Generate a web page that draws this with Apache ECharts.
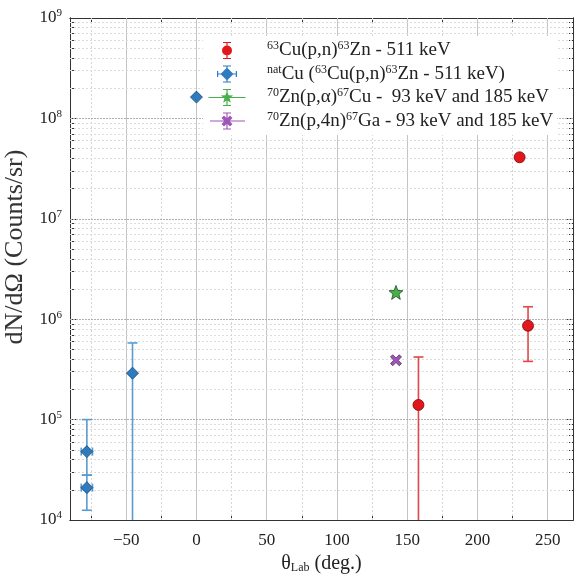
<!DOCTYPE html>
<html>
<head>
<meta charset="utf-8">
<script src="https://cdn.jsdelivr.net/npm/echarts@6/dist/echarts.min.js"></script>
<style>
  html, body { margin: 0; padding: 0; background: #fff; }
  #chart { width: 575px; height: 577px; }
</style>
</head>
<body>
<div id="chart"></div>
<script>
// 刻度
const xTicks = [-50, 0, 50, 100, 150, 200, 250];
const xMinorTicks = [-75, -25, 25, 75, 125, 175, 225];
const yTicks = [1e4, 1e5, 1e6, 1e7, 1e8, 1e9];
const yMantissa = [2, 3, 4, 5, 6, 7, 8, 9];

// 63Cu(p,n)63Zn - 511 keV
const cuX = [230, 236, 158];
const cuY = [4.1e7, 8.6e5, 1.4e5];
const cuLo = [4.1e7, 3.8e5, 1e3];
const cuHi = [4.1e7, 1.33e6, 4.2e5];

// natCu (63Cu(p,n)63Zn - 511 keV)
const natX = [0, -45.5, -78, -78];
const natY = [1.63e8, 2.9e5, 4.8e4, 2.1e4];
const natLo = [1.63e8, 1e3, 2.8e4, 1.25e4];
const natHi = [1.63e8, 5.8e5, 1.0e5, 2.8e4];
const natXErr = [0, 0, 4, 4];

// 70Zn(p,α)67Cu
const znCuX = [142];
const znCuY = [1.85e6];

// 70Zn(p,4n)67Ga
const znGaX = [142];
const znGaY = [3.9e5];

const seriesNames = [
    '63Cu(p,n)63Zn - 511 keV',
    'natCu (63Cu(p,n)63Zn - 511 keV)',
    '70Zn(p,α)67Cu -  93 keV and 185 keV',
    '70Zn(p,4n)67Ga - 93 keV and 185 keV'
];
const legendRich = {
    '63Cu(p,n)63Zn - 511 keV': '{p|63}{n|Cu(p,n)}{p|63}{n|Zn - 511 keV}',
    'natCu (63Cu(p,n)63Zn - 511 keV)': '{p|nat}{n|Cu (}{p|63}{n|Cu(p,n)}{p|63}{n|Zn - 511 keV)}',
    '70Zn(p,α)67Cu -  93 keV and 185 keV': '{p|70}{n|Zn(p,α)}{p|67}{n|Cu -  93 keV and 185 keV}',
    '70Zn(p,4n)67Ga - 93 keV and 185 keV': '{p|70}{n|Zn(p,4n)}{p|67}{n|Ga - 93 keV and 185 keV}'
};

const colors = {
    red: '#e3161b', redEdge: '#7a0a0a', redBar: '#e0474a',
    blue: '#2f7bbf', blueEdge: '#17456e', blueBar: '#5a9bd0',
    green: '#47b04b', greenEdge: '#1c4f1e', greenBar: '#5cbf5f',
    purple: '#9e57b8', purpleEdge: '#56285f', purpleBar: '#a877c0'
};

const FONT = 'Liberation Serif';

// 图例图标（误差棒 + 标记）
const corners = 'M0 0h0.1v0.1h-0.1z M53.9 19.9h0.1v0.1h-0.1z ';
const vBar = 'M18.4 2h1.2v16h-1.2z M15 1.4h8v1.2h-8z M15 17.4h8v1.2h-8z ';
const iconRed = 'path://' + corners + vBar + 'M14 10a5 5 0 1 1 10 0a5 5 0 1 1 -10 0z';
const iconBlue = 'path://' + corners + vBar +
    'M9.5 9.4h19v1.2h-19z M9 7h1.2v6h-1.2z M27.8 7h1.2v6h-1.2z M19 3.5L25.5 10L19 16.5L12.5 10z';
const iconGreen = 'path://' + corners + vBar +
    'M0.5 9.4h37v1.2h-37z M19 3.5L20.59 7.82L25.18 7.99L21.57 10.83L22.82 15.26L19 12.7L15.18 15.26L16.43 10.83L12.82 7.99L17.41 7.82z';
const iconPurple = 'path://' + corners + vBar +
    'M2 9.4h35v1.2h-35z M13.5 7L16 4.5L19 7.5L22 4.5L24.5 7L21.5 10L24.5 13L22 15.5L19 12.5L16 15.5L13.5 13L16.5 10z';

const starSymbol = 'path://M0 -10L2.47 -3.4L9.51 -3.09L4 1.3L5.88 8.09L0 4.2L-5.88 8.09L-4 1.3L-9.51 -3.09L-2.47 -3.4z';
const xSymbol = 'path://M-10 -6L-6 -10L0 -4L6 -10L10 -6L4 0L10 6L6 10L0 4L-6 10L-10 6L-4 0z';

function rows(xs, ys, lo, hi, xe) {
    return xs.map((x, i) => [x, ys[i], lo ? lo[i] : ys[i], hi ? hi[i] : ys[i], xe ? xe[i] : 0]);
}

function errorBars(color) {
    return function (params, api) {
        const x = api.value(0), y = api.value(1);
        const lo = api.value(2), hi = api.value(3), xe = api.value(4);
        const cs = params.coordSys;
        const bottom = cs.y + cs.height;
        const style = { stroke: color, lineWidth: 1.6 };
        const children = [];
        if (hi > lo) {
            const top = api.coord([x, hi]);
            const bot = api.coord([x, lo]);
            const by = Math.min(bot[1], bottom);
            children.push({ type: 'line', shape: { x1: top[0], y1: top[1], x2: top[0], y2: by }, style: style });
            children.push({ type: 'line', shape: { x1: top[0] - 5, y1: top[1], x2: top[0] + 5, y2: top[1] }, style: style });
            if (bot[1] <= bottom) {
                children.push({ type: 'line', shape: { x1: bot[0] - 5, y1: bot[1], x2: bot[0] + 5, y2: bot[1] }, style: style });
            }
        }
        if (xe > 0) {
            const l = api.coord([x - xe, y]);
            const r = api.coord([x + xe, y]);
            children.push({ type: 'line', shape: { x1: l[0], y1: l[1], x2: r[0], y2: r[1] }, style: style });
            children.push({ type: 'line', shape: { x1: l[0], y1: l[1] - 4, x2: l[0], y2: l[1] + 4 }, style: style });
            children.push({ type: 'line', shape: { x1: r[0], y1: r[1] - 4, x2: r[0], y2: r[1] + 4 }, style: style });
        }
        return { type: 'group', children: children };
    };
}

const yMinorTicks = [];
yTicks.slice(0, -1).forEach(d => yMantissa.forEach(m => yMinorTicks.push(m * d)));

const gridLines = [];
xTicks.forEach(v => gridLines.push({ xAxis: v, lineStyle: { color: '#c4c4c4', width: 1, type: 'solid' } }));
xMinorTicks.forEach(v => gridLines.push({ xAxis: v, lineStyle: { color: '#d6d6d6', width: 1, type: [2, 2] } }));
yTicks.slice(1, -1).forEach(v => gridLines.push({ yAxis: v, lineStyle: { color: '#b0b0b0', width: 1, type: [2, 1] } }));
yMinorTicks.forEach(v => gridLines.push({ yAxis: v, lineStyle: { color: '#dcdcdc', width: 1, type: [2, 2] } }));

const chart = echarts.init(document.getElementById('chart'));

const axisLineStyle = { show: true, onZero: false, lineStyle: { color: '#333', width: 1 } };

function xAxisCfg(position, minor, withLabel) {
    return {
        type: 'value', position: position, min: -90, max: 268,
        axisLine: axisLineStyle,
        axisTick: {
            show: true, inside: true, length: minor ? 4 : 7,
            customValues: minor ? xMinorTicks : xTicks,
            lineStyle: { color: '#333' }
        },
        axisLabel: withLabel ? {
            show: true, customValues: xTicks, margin: 12,
            fontFamily: FONT, fontSize: 17, color: '#222',
            formatter: v => String(v).replace('-', '\u2212')
        } : { show: false },
        splitLine: { show: false },
        name: withLabel ? '{n|θ}{s|Lab}{n| (deg.)}' : '',
        nameLocation: 'middle', nameGap: 25,
        nameTextStyle: {
            rich: {
                n: { fontFamily: FONT, fontSize: 20, color: '#222' },
                s: { fontFamily: FONT, fontSize: 12, color: '#222', padding: [8, 0, 0, 0] }
            }
        }
    };
}

function yAxisCfg(position, minor, withLabel) {
    return {
        type: 'log', logBase: 10, position: position, min: 1e4, max: 1e9,
        axisLine: axisLineStyle,
        axisTick: {
            show: true, inside: true, length: minor ? 4 : 7,
            customValues: minor ? yMinorTicks : yTicks,
            lineStyle: { color: '#333' }
        },
        axisLabel: withLabel ? {
            show: true, customValues: yTicks, margin: 8,
            formatter: v => '{b|10}{s|' + Math.round(Math.log10(v)) + '}',
            rich: {
                b: { fontFamily: FONT, fontSize: 17, color: '#222' },
                s: { fontFamily: FONT, fontSize: 11, color: '#222', padding: [0, 0, 9, 0] }
            }
        } : { show: false },
        splitLine: { show: false },
        minorTick: { show: false },
        name: withLabel ? 'dN/dΩ (Counts/sr)' : '',
        nameLocation: 'middle', nameGap: 32,
        nameTextStyle: { fontFamily: FONT, fontSize: 26, color: '#333', padding: [0, 0, 0, 44] }
    };
}

const option = {
    animation: false,
    backgroundColor: '#fff',
    grid: { left: 70, right: 2, top: 18, bottom: 57, containLabel: false, outerBoundsMode: 'none' },
    xAxis: [
        xAxisCfg('bottom', false, true),
        xAxisCfg('bottom', true, false),
        xAxisCfg('top', false, false),
        xAxisCfg('top', true, false)
    ],
    yAxis: [
        yAxisCfg('left', false, true),
        yAxisCfg('left', true, false),
        yAxisCfg('right', false, false),
        yAxisCfg('right', true, false)
    ],
    legend: {
        orient: 'vertical',
        left: 203, top: 36, z: 10,
        padding: [4, 4, 4, 5],
        itemWidth: 54, itemHeight: 20, itemGap: 3,
        backgroundColor: '#fff',
        selectedMode: false,
        data: [
            { name: seriesNames[0], icon: iconRed, itemStyle: { color: colors.red } },
            { name: seriesNames[1], icon: iconBlue, itemStyle: { color: colors.blue } },
            { name: seriesNames[2], icon: iconGreen, itemStyle: { color: colors.green } },
            { name: seriesNames[3], icon: iconPurple, itemStyle: { color: colors.purple } }
        ],
        formatter: name => legendRich[name],
        textStyle: {
            rich: {
                n: { fontFamily: FONT, fontSize: 19, color: '#222', lineHeight: 20 },
                p: { fontFamily: FONT, fontSize: 12, color: '#222', padding: [0, 0, 9, 0] }
            }
        }
    },
    series: [
        {
            name: 'grid', type: 'scatter', data: [], z: 0, silent: true,
            markLine: { silent: true, z: 1, symbol: ['none', 'none'], label: { show: false }, animation: false, data: gridLines }
        },
        { name: seriesNames[0], type: 'custom', renderItem: errorBars(colors.redBar), data: rows(cuX, cuY, cuLo, cuHi), encode: { x: 0, y: 1 }, z: 3 },
        { name: seriesNames[1], type: 'custom', renderItem: errorBars(colors.blueBar), data: rows(natX, natY, natLo, natHi, natXErr), encode: { x: 0, y: 1 }, z: 3 },
        { name: seriesNames[2], type: 'custom', renderItem: errorBars(colors.greenBar), data: rows(znCuX, znCuY), encode: { x: 0, y: 1 }, z: 3 },
        { name: seriesNames[3], type: 'custom', renderItem: errorBars(colors.purpleBar), data: rows(znGaX, znGaY), encode: { x: 0, y: 1 }, z: 3 },
        {
            name: seriesNames[0], type: 'scatter', symbol: 'circle', symbolSize: 11, z: 5,
            data: cuX.map((x, i) => [x, cuY[i]]),
            itemStyle: { color: colors.red, borderColor: colors.redEdge, borderWidth: 0.8, opacity: 1 }
        },
        {
            name: seriesNames[1], type: 'scatter', symbol: 'diamond', symbolSize: 12, z: 11,
            data: natX.map((x, i) => [x, natY[i]]),
            itemStyle: { color: colors.blue, borderColor: colors.blueEdge, borderWidth: 0.8, opacity: 1 }
        },
        {
            name: seriesNames[2], type: 'scatter', symbol: starSymbol, symbolSize: 14, z: 5,
            data: znCuX.map((x, i) => [x, znCuY[i]]),
            itemStyle: { color: colors.green, borderColor: colors.greenEdge, borderWidth: 0.8, opacity: 1 }
        },
        {
            name: seriesNames[3], type: 'scatter', symbol: xSymbol, symbolSize: 11, z: 5,
            data: znGaX.map((x, i) => [x, znGaY[i]]),
            itemStyle: { color: colors.purple, borderColor: colors.purpleEdge, borderWidth: 0.8, opacity: 1 }
        }
    ]
};

chart.setOption(option);
</script>
</body>
</html>
